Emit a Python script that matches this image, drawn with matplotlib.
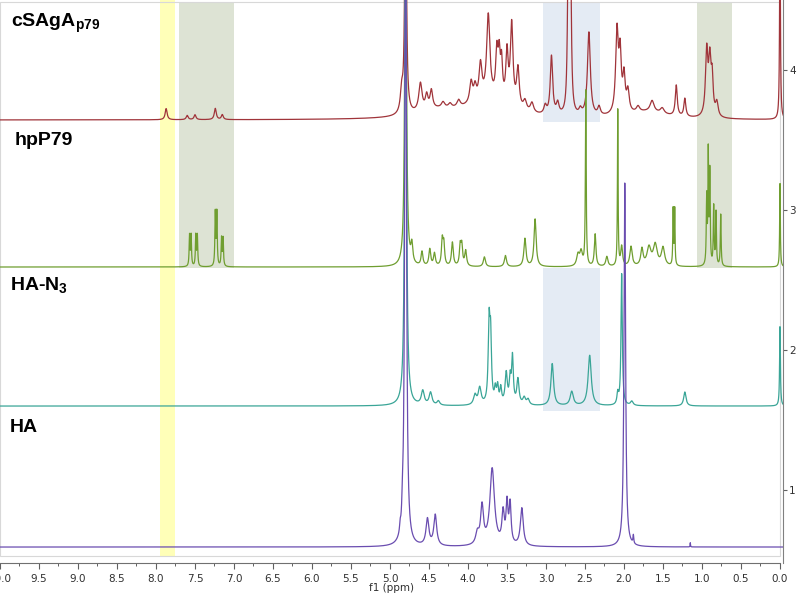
import numpy as np
import matplotlib
matplotlib.use("Agg")
import matplotlib.pyplot as plt
from matplotlib.ticker import MultipleLocator, FormatStrFormatter
from matplotlib.patches import Rectangle

# ---------------- data (peak lists) ----------------
# HA (purple)
ha_ppm    = [4.87, 4.84, 4.80, 4.52, 4.42, 3.88, 3.82, 3.69, 3.55, 3.50, 3.46, 3.31, 1.99, 1.88, 1.15]
ha_height = [0.05, 0.12, 5.00, 0.19, 0.22, 0.08, 0.27, 0.55, 0.22, 0.28, 0.28, 0.27, 2.60, 0.06, 0.03]
ha_width  = [0.008, 0.008, 0.012, 0.022, 0.022, 0.025, 0.022, 0.035, 0.018, 0.015, 0.015, 0.022, 0.012, 0.006, 0.003]

# HA-N3 (teal)
han3_ppm    = [4.80, 4.58, 4.48, 4.38, 3.91, 3.85, 3.73, 3.71, 3.65, 3.62, 3.58, 3.51, 3.46, 3.43,
               3.36, 3.28, 3.23, 2.92, 2.67, 2.44, 2.08, 2.03, 1.90, 1.22, 0.00]
han3_height = [4.00, 0.10, 0.09, 0.03, 0.07, 0.12, 0.55, 0.45, 0.10, 0.12, 0.11, 0.22, 0.17, 0.33,
               0.18, 0.05, 0.04, 0.30, 0.10, 0.36, 0.08, 0.94, 0.03, 0.10, 0.57]
han3_width  = [0.012, 0.022, 0.022, 0.02, 0.022, 0.022, 0.013, 0.013, 0.013, 0.013, 0.013, 0.017, 0.013, 0.013,
               0.017, 0.02, 0.02, 0.02, 0.024, 0.024, 0.012, 0.010, 0.02, 0.018, 0.006]

# hpP79 (green)
hp_ppm    = [7.57, 7.55, 7.49, 7.47, 7.24, 7.22, 7.16, 7.14, 4.80, 4.72, 4.59, 4.49, 4.43, 4.33, 4.31,
             4.20, 4.10, 4.08, 4.03, 3.79, 3.52, 3.27, 3.14, 2.59, 2.55, 2.49, 2.37, 2.22, 2.08, 2.03,
             1.91, 1.77, 1.68, 1.60, 1.50, 1.37, 1.35, 0.94, 0.92, 0.90, 0.85, 0.82, 0.76, 0.00]
hp_height = [0.22, 0.22, 0.22, 0.22, 0.38, 0.38, 0.20, 0.20, 3.00, 0.13, 0.10, 0.12, 0.09, 0.18, 0.15,
             0.17, 0.14, 0.14, 0.11, 0.07, 0.08, 0.20, 0.34, 0.08, 0.10, 1.25, 0.23, 0.07, 1.12, 0.14,
             0.14, 0.12, 0.13, 0.15, 0.13, 0.40, 0.40, 0.48, 0.78, 0.66, 0.42, 0.38, 0.37, 0.60]
hp_width  = [0.006, 0.006, 0.006, 0.006, 0.006, 0.006, 0.006, 0.006, 0.012, 0.014, 0.014, 0.014, 0.014, 0.012, 0.012,
             0.014, 0.012, 0.012, 0.014, 0.016, 0.016, 0.016, 0.016, 0.02, 0.02, 0.006, 0.012, 0.016, 0.005, 0.014,
             0.018, 0.018, 0.03, 0.03, 0.025, 0.005, 0.005, 0.006, 0.005, 0.006, 0.006, 0.006, 0.006, 0.005]

# cSAgA_p79 (dark red)
cs_ppm    = [7.87, 7.60, 7.50, 7.24, 7.15, 4.85, 4.80, 4.61, 4.53, 4.47, 4.32, 4.23, 4.12, 3.96, 3.91,
             3.84, 3.74, 3.63, 3.60, 3.57, 3.50, 3.44, 3.36, 3.27, 3.18, 3.01, 2.93, 2.85, 2.715, 2.685,
             2.56, 2.45, 2.32, 2.09, 2.05, 2.00, 1.95, 1.82, 1.64, 1.51, 1.33, 1.22, 0.94, 0.90, 0.87,
             0.81, 0.00, 3.75, 4.40, 1.70]
cs_height = [0.08, 0.03, 0.035, 0.08, 0.035, 0.15, 2.00, 0.20, 0.10, 0.13, 0.04, 0.03, 0.05, 0.15, 0.10,
             0.25, 0.60, 0.33, 0.28, 0.26, 0.36, 0.58, 0.28, 0.07, 0.07, 0.06, 0.42, 0.08, 1.10, 1.10,
             0.04, 0.60, 0.06, 0.58, 0.40, 0.25, 0.15, 0.04, 0.08, 0.04, 0.22, 0.13, 0.46, 0.38, 0.25,
             0.10, 1.50, 0.12, 0.05, 0.05]
cs_width  = [0.015, 0.015, 0.015, 0.015, 0.015, 0.02, 0.012, 0.025, 0.02, 0.02, 0.025, 0.025, 0.025, 0.022, 0.02,
             0.022, 0.025, 0.018, 0.015, 0.015, 0.018, 0.02, 0.02, 0.025, 0.025, 0.02, 0.018, 0.02, 0.012, 0.012,
             0.02, 0.022, 0.02, 0.02, 0.018, 0.018, 0.02, 0.025, 0.03, 0.03, 0.015, 0.015, 0.018, 0.018, 0.015,
             0.02, 0.006, 0.35, 0.30, 0.30]

names   = ["cSAgA", "hpP79", "HA-N3", "HA"]
offsets = [3.643, 2.593, 1.600, 0.593]
colors  = ["#A0343A", "#6F9E30", "#3AA597", "#6A4DB0"]

# ---------------- helpers ----------------
x = np.linspace(10.2, -0.1, 12000)

def spectrum(ppm, h, w):
    y = np.zeros_like(x)
    for p, hh, ww in zip(ppm, h, w):
        y += hh * ww**2 / ((x - p)**2 + ww**2)
    return y

spectra = [
    spectrum(cs_ppm, cs_height, cs_width),
    spectrum(hp_ppm, hp_height, hp_width),
    spectrum(han3_ppm, han3_height, han3_width),
    spectrum(ha_ppm, ha_height, ha_width),
]

plt.rcParams["mathtext.fontset"] = "custom"
plt.rcParams["mathtext.rm"] = "Liberation Sans:bold"
plt.rcParams["mathtext.bf"] = "Liberation Sans:bold"

fig = plt.figure(figsize=(8.0, 5.93), dpi=100)
H = 593.0
ax = fig.add_axes([0.0, 1 - 563 / H, 783 / 800.0, 563 / H])
ax.set_xlim(10.0, -0.0385)
ax.set_ylim(0.479, 4.5)

# shaded regions
def shade(x0, x1, y0, y1, c):
    ax.add_patch(Rectangle((x1, y0), x0 - x1, y1 - y0, fc=c, ec="none", zorder=0))

shade(7.95, 7.76, 0.529, 4.6, "#FFFFB8")
shade(7.705, 7.0, 2.586, 4.486, "#DDE3D4")
shade(1.064, 0.615, 2.586, 4.486, "#DDE3D4")
shade(3.04, 2.31, 3.629, 4.486, "#E4EBF4")
shade(3.04, 2.31, 1.564, 2.586, "#E4EBF4")

# light frame
ax.add_patch(Rectangle((0.0, 0.529), 10.0, 4.486 - 0.529, fill=False, ec="#D8D8D8", lw=0.8, zorder=0.5))

for y, off, c in zip(spectra, offsets, colors):
    ax.plot(x, y + off, color=c, lw=0.9, zorder=2)

# axes styling
for s in ["top", "left"]:
    ax.spines[s].set_visible(False)
ax.spines["bottom"].set_bounds(0.0, 10.0)
ax.spines["bottom"].set_color("#707070")
ax.spines["right"].set_color("#808080")

ax.xaxis.set_major_locator(MultipleLocator(0.5))
ax.xaxis.set_minor_locator(MultipleLocator(0.25))
ax.xaxis.set_major_formatter(FormatStrFormatter("%.1f"))
ax.tick_params(axis="x", which="major", direction="out", length=4, width=0.8,
               color="#606060", labelsize=7.5, labelcolor="#303030", pad=4)
ax.tick_params(axis="x", which="minor", direction="out", length=2.5, width=0.7, color="#606060")

ax.yaxis.set_ticks_position("right")
ax.set_yticks([1, 2, 3, 4])
ax.yaxis.set_major_formatter(FormatStrFormatter("%d"))
ax.tick_params(axis="y", direction="out", length=3, width=0.8, color="#606060",
               labelsize=7.5, labelcolor="#303030", pad=1.5)

ax.set_xlabel("f1 (ppm)", fontsize=7.5, color="#303030")
ax.xaxis.set_label_coords(0.5, -0.035)

# spectrum labels
lab_kw = dict(fontfamily="Liberation Sans", fontweight="bold", fontsize=14, color="black", va="baseline")
fig.text(11 / 800, 1 - 27 / H, r"cSAgA$_{\mathbf{p79}}$", **lab_kw)
fig.text(15 / 800, 1 - 145 / H, "hpP79", **lab_kw)
fig.text(10 / 800, 1 - 291 / H, r"HA-N$_{\mathbf{3}}$", **lab_kw)
fig.text(10 / 800, 1 - 432 / H, "HA", **lab_kw)

fig.savefig("out.png", dpi=100)
